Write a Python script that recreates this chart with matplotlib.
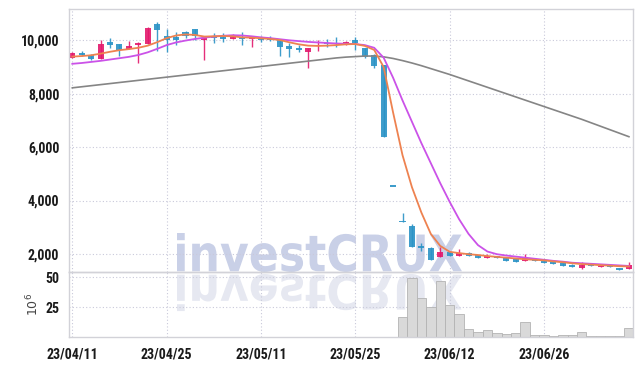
import numpy as np
import matplotlib
matplotlib.use('Agg')
from matplotlib import pyplot as plt
from matplotlib.textpath import TextPath
from matplotlib.patches import PathPatch
from matplotlib.font_manager import FontProperties
from matplotlib.transforms import Affine2D, IdentityTransform

# daily candles (60 trading days)
opens = [9330, 9520, 9460, 9290, 9940, 9860, 9690, 9820, 9850, 10610,
         10170, 10140, 10300, 10420, 10000, 10150, 10140, 10040, 10120, 10050,
         10080, 10100, 10010, 9790, 9720, 9570, 9890, 9910, 9910, 9890,
         10010, 9700, 9450, 9075, 4520, 3190, 3050, 2260, 2210, 1870,
         2070, 1930, 2020, 1960, 1840, 1920, 1870, 1810, 1720, 1810,
         1750, 1700, 1660, 1600, 1470, 1590, 1510, 1560, 1470, 1420]
highs = [9550, 9600, 9470, 10000, 10080, 9870, 9970, 9920, 10480, 10670,
         10410, 10320, 10360, 10430, 10100, 10260, 10260, 10250, 10300, 10100,
         10160, 10150, 10010, 9890, 9820, 9700, 10010, 10040, 10140, 9990,
         10140, 9720, 9470, 9075, 4520, 3540, 3120, 2420, 2250, 2250,
         2100, 2170, 2060, 1970, 1990, 1930, 1880, 1820, 1990, 1820,
         1760, 1710, 1670, 1610, 1710, 1660, 1560, 1570, 1480, 1700]
lows = [9320, 9400, 9250, 9290, 9700, 9400, 9690, 9160, 9850, 9600,
        9570, 9820, 10100, 10010, 9260, 9910, 9950, 10030, 9820, 9750,
        9950, 9960, 9420, 9390, 9550, 8950, 9600, 9760, 9760, 9840,
        9640, 9340, 8960, 6390, 4520, 3190, 2270, 2110, 1770, 1870,
        1930, 1930, 1910, 1830, 1840, 1830, 1740, 1680, 1720, 1730,
        1670, 1620, 1560, 1500, 1440, 1550, 1500, 1500, 1410, 1420]
closes = [9530, 9450, 9310, 9860, 9820, 9650, 9790, 9900, 10460, 10390,
          10010, 10010, 10160, 10170, 10100, 10080, 10050, 10110, 10050, 10100,
          10020, 10010, 9760, 9670, 9650, 9700, 9910, 9850, 9850, 9910,
          9890, 9390, 9040, 6390, 4520, 3190, 2270, 2240, 1770, 2080,
          1930, 2020, 1930, 1840, 1930, 1840, 1750, 1700, 1840, 1740,
          1670, 1620, 1560, 1500, 1570, 1550, 1550, 1500, 1410, 1590]

# moving average lines as drawn
ma_short = [9390, 9410, 9440, 9500, 9570, 9630, 9670, 9720, 9800, 9930,
            10080, 10180, 10220, 10200, 10140, 10150, 10160, 10150, 10110, 10100,
            10075, 10050, 10010, 9925, 9850, 9800, 9790, 9800, 9820, 9850,
            9860, 9790, 9640, 9000, 7300, 5700, 4500, 3550, 2750, 2300,
            2080, 2030, 1990, 1960, 1920, 1890, 1860, 1830, 1800, 1780,
            1760, 1720, 1690, 1650, 1620, 1600, 1580, 1560, 1540, 1530]
ma_mid = [9120, 9150, 9190, 9230, 9280, 9330, 9380, 9450, 9550, 9680,
          9820, 9920, 9990, 10050, 10100, 10140, 10170, 10190, 10180, 10150,
          10110, 10080, 10040, 10000, 9970, 9940, 9920, 9900, 9880, 9870,
          9860, 9820, 9720, 9350, 8600, 7750, 6950, 6150, 5400, 4650,
          3950, 3300, 2750, 2330, 2090, 1990, 1940, 1900, 1860, 1820,
          1780, 1740, 1710, 1670, 1650, 1630, 1610, 1590, 1570, 1550]
ma_long = [8220, 8260, 8300, 8340, 8380, 8420, 8460, 8500, 8540, 8580,
           8620, 8660, 8700, 8740, 8780, 8820, 8860, 8900, 8940, 8980,
           9020, 9060, 9100, 9140, 9180, 9220, 9260, 9300, 9340, 9370,
           9390, 9410, 9410, 9380, 9320, 9240, 9150, 9050, 8940, 8830,
           8720, 8600, 8480, 8360, 8240, 8120, 8000, 7880, 7760, 7640,
           7520, 7400, 7280, 7160, 7040, 6910, 6780, 6650, 6520, 6390]

# volume in millions
volume = [0.4] * 33 + [0.6, 0.3,
          16.7, 49.2, 32.5, 25.0, 47.2, 26.9, 19.4, 6.7, 4.2, 5.8,
          3.3, 2.5, 3.6, 13.0, 1.7, 1.7, 0.8, 1.7, 1.7, 4.2,
          0.8, 0.8, 0.8, 0.8, 7.5]

tick_idx = [0, 10, 20, 30, 40, 50]
tick_labels = ['23/04/11', '23/04/25', '23/05/11', '23/05/25', '23/06/12', '23/06/26']
price_ticks = [2000, 4000, 6000, 8000, 10000]
price_labels = ['2,000', '4,000', '6,000', '8,000', '10,000']

UP = '#e3186c'
DOWN = '#2a93c6'
GRID = '#c9c9da'
SPINE = '#d2d2d8'

W, H = 642, 366
fig = plt.figure(figsize=(W / 100, H / 100), dpi=100)
fig.patch.set_facecolor('white')

x0, x1 = 69, 632.7
ax = fig.add_axes([x0 / W, 1 - 272.3 / H, (x1 - x0) / W, (272.3 - 9) / H])
axv = fig.add_axes([x0 / W, 1 - 337.3 / H, (x1 - x0) / W, 65 / H], sharex=ax)
for a in (ax, axv):
    a.set_facecolor('none')
    for s in a.spines.values():
        s.set_color(SPINE)
        s.set_linewidth(1.0)
    a.tick_params(length=0, pad=7)

# narrow bold face for the axis numbers
tick_font = FontProperties(family=['Roboto Condensed', 'Roboto', 'DejaVu Sans'], weight='bold', size=10)

# watermark with its mirror image
tp = TextPath((0, 0), 'investCRUX', size=50, prop=FontProperties(family='DejaVu Sans', weight='bold'))
ext = tp.get_extents()
left, right = 177, 462
top, base = H - 233, H - 272
sx = (right - left) / ext.width
sy = (top - base) / ext.height
wm = Affine2D().translate(-ext.x0, -ext.y0).scale(sx, sy).translate(left, base)
fig.add_artist(PathPatch(tp, transform=wm + IdentityTransform(), facecolor='#c9d0e7',
                         edgecolor='none', zorder=-1))
wm_flip = Affine2D().translate(-ext.x0, -ext.y0).scale(sx, -sy * 0.95).translate(left, base - 2)
fig.add_artist(PathPatch(tp, transform=wm_flip + IdentityTransform(), facecolor='#e6e8f1',
                         edgecolor='none', zorder=-1))

idx = np.arange(len(closes))
o = np.array(opens)
c = np.array(closes)
colors = [UP if cc > oo else DOWN for oo, cc in zip(o, c)]

# candles: wicks then bodies
ax.vlines(idx, lows, highs, colors=colors, linewidth=1.0, alpha=0.9, zorder=2)
body_bottom = np.minimum(o, c)
body_height = np.maximum(np.abs(c - o), 45)
ax.bar(idx, body_height, bottom=body_bottom, width=0.64, color=colors, alpha=0.9,
       linewidth=0, zorder=2)

ax.plot(idx, ma_long, color='#858585', linewidth=1.2, zorder=3)
ax.plot(idx, ma_mid, color='#cb52e8', linewidth=1.3, zorder=3)
ax.plot(idx, ma_short, color='#ee8250', linewidth=1.3, zorder=3)

ax.set_xlim(-0.35, 59.4)
ax.set_ylim(1312, 11172)
ax.set_yticks(price_ticks)
ax.set_yticklabels(price_labels, fontproperties=tick_font, color='#1a1a1a')
ax.set_xticks(tick_idx)
ax.tick_params(axis='x', labelbottom=False)
ax.grid(True, linestyle=(0, (1, 2)), color=GRID, linewidth=0.8)
ax.set_axisbelow(True)

# volume panel
axv.bar(idx, volume, width=1.0, color='#d9d9d9', edgecolor='#b3b3b3', linewidth=0.6, zorder=2)
axv.set_ylim(0, 54.2)
axv.set_yticks([25, 50])
axv.set_yticklabels(['25', '50'], fontproperties=tick_font, color='#1a1a1a')
axv.set_xticks(tick_idx)
axv.set_xticklabels(tick_labels, fontproperties=tick_font, color='#1a1a1a')
axv.grid(True, linestyle=(0, (1, 2)), color=GRID, linewidth=0.8)
axv.set_axisbelow(True)
axv.set_ylabel(r'$10^6$', fontsize=9, color='#444444')
axv.yaxis.set_label_coords(-0.05, 0.5)

plt.savefig('out.png', dpi=100, facecolor='white')
